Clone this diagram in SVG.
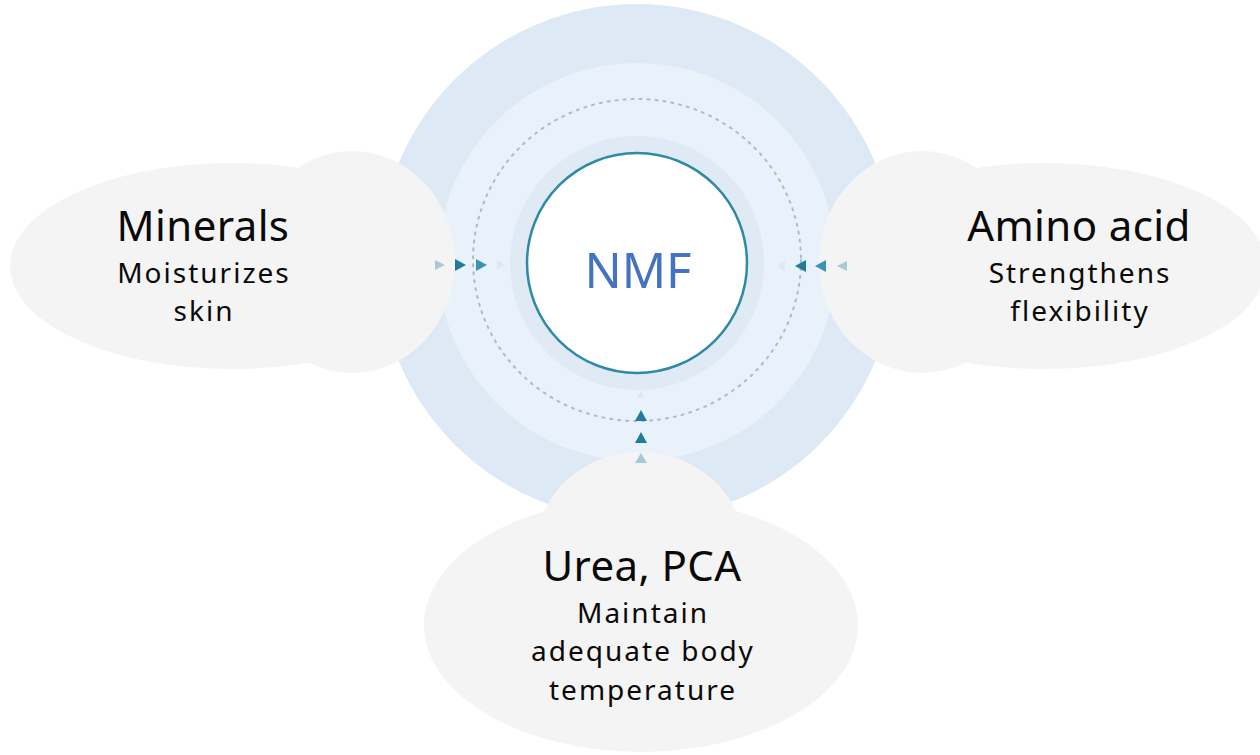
<svg xmlns="http://www.w3.org/2000/svg" width="1260" height="755" viewBox="0 0 1260 755">
  <style>
    .cloud { fill: #f4f4f4; }
    .title { font-family: "Noto Sans", "Open Sans", sans-serif; font-size: 42px; fill: #0a0a0a; text-anchor: middle; letter-spacing: 0.4px; }
    .sub { font-family: "Noto Sans", "Open Sans", sans-serif; font-size: 28px; fill: #0a0a0a; text-anchor: middle; letter-spacing: 2px; }
    .t-dark { fill: #217c9c; }
    .t-mid { fill: #3a93b3; }
    .t-light { fill: #a8c9d6; }
    .t-faint { fill: #dde9ef; }
  </style>
  <rect width="1260" height="755" fill="#ffffff"/>

  <g id="rings">
    <circle cx="637" cy="262" r="258" fill="#dde9f5"/>
    <circle cx="637" cy="262" r="199" fill="#e9f1fa"/>
    <ellipse cx="637" cy="260" rx="164" ry="161" fill="none" stroke="#a9bccb" stroke-width="2" stroke-dasharray="2 6" stroke-linecap="round"/>
    <circle cx="637" cy="263" r="127" fill="#e0eaf5"/>
  </g>

  <g id="nmf">
    <circle cx="637" cy="263" r="110" fill="#ffffff" stroke="#2f8aa6" stroke-width="2.5"/>
    <text x="638" y="288" font-family="Noto Sans, Open Sans, sans-serif" font-size="49" fill="#4472c4" text-anchor="middle">NMF</text>
  </g>

  <g id="minerals">
    <ellipse class="cloud" cx="232" cy="266" rx="222" ry="103"/>
    <ellipse class="cloud" cx="352" cy="262" rx="103" ry="111"/>
    <text class="title" x="203" y="241">Minerals</text>
    <text class="sub" x="204" y="282.5">Moisturizes</text>
    <text class="sub" x="204" y="321">skin</text>
  </g>

  <g id="amino">
    <ellipse class="cloud" cx="1044" cy="266" rx="222" ry="103"/>
    <ellipse class="cloud" cx="922" cy="262" rx="103" ry="111"/>
    <text class="title" x="1079" y="241">Amino acid</text>
    <text class="sub" x="1080" y="282.5">Strengthens</text>
    <text class="sub" x="1080" y="321">flexibility</text>
  </g>

  <g id="urea">
    <ellipse class="cloud" cx="641" cy="625" rx="217" ry="127"/>
    <ellipse class="cloud" cx="640" cy="548" rx="104" ry="96"/>
    <text class="title" x="642" y="581">Urea, PCA</text>
    <text class="sub" x="643" y="622.5">Maintain</text>
    <text class="sub" x="643" y="661">adequate body</text>
    <text class="sub" x="643" y="699.5">temperature</text>
  </g>

  <g id="connectors">
    <!-- left, pointing right -->
    <polygon class="t-light" points="435,260 445,265 435,270"/>
    <polygon class="t-dark" points="455,259 466,265 455,271"/>
    <polygon class="t-mid" points="476,259 487,265 476,271"/>
    <polygon class="t-faint" points="497,260 505,265 497,270"/>
    <!-- right, pointing left -->
    <polygon class="t-faint" points="785,261 777,266 785,271"/>
    <polygon class="t-dark" points="806,260 795,266 806,272"/>
    <polygon class="t-mid" points="826,260 815,266 826,272"/>
    <polygon class="t-light" points="847,261 837,266 847,271"/>
    <!-- bottom, pointing up -->
    <polygon class="t-faint" points="637,398 641,391 645,398"/>
    <polygon class="t-dark" points="635,421 641,410 647,421"/>
    <polygon class="t-dark" points="635,443 641,432 647,443"/>
    <polygon class="t-light" points="635,463 641,453 647,463"/>
  </g>
</svg>
